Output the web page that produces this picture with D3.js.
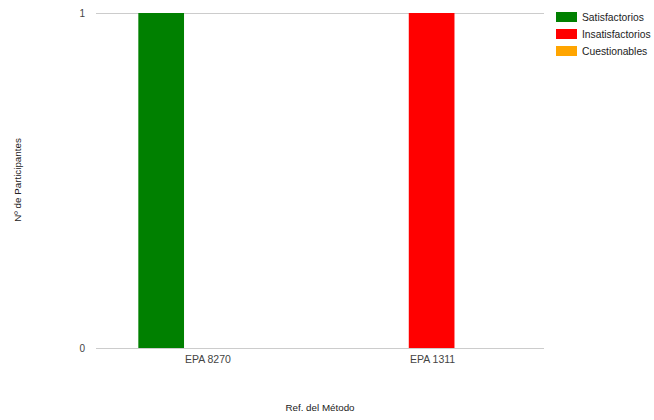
<!DOCTYPE html>
<html>
<head>
<meta charset="utf-8">
<script src="https://cdn.jsdelivr.net/npm/d3@7"></script>
<style>
  html, body { margin: 0; padding: 0; background: #fff; }
  svg { display: block; font-family: "Liberation Sans", Arial, sans-serif; }
</style>
</head>
<body>
<svg id="chart" width="654" height="420"></svg>
<script>
// Methods tested and participant counts per result class
const methods = ["EPA 8270", "EPA 1311"];
const seriesNames = ["Satisfactorios", "Insatisfactorios", "Cuestionables"];
const seriesColors = ["#008000", "#ff0000", "#ffa500"];
const satisfactorios = [1, 0];
const insatisfactorios = [0, 1];
const cuestionables = [0, 0];
const yTicks = [0, 1];
const xTitle = "Ref. del Método";
const yTitle = "Nº de Participantes";

const seriesValues = [satisfactorios, insatisfactorios, cuestionables];

const svg = d3.select("#chart");
const plot = { left: 96, right: 544, top: 13, bottom: 348 };

const x = d3.scaleBand().domain(methods).range([plot.left - 1.5, plot.right]).paddingInner(0).paddingOuter(0);
const barW = 45.7;
const xSeries = d3.scaleBand().domain(seriesNames).range([0, barW * seriesNames.length]);
const y = d3.scaleLinear().domain([0, 1]).range([plot.bottom, plot.top]);

// gridlines
svg.append("g")
  .selectAll("line")
  .data(yTicks)
  .join("line")
  .attr("x1", plot.left).attr("x2", plot.right)
  .attr("y1", d => y(d) + 0.5).attr("y2", d => y(d) + 0.5)
  .attr("stroke", "#cccccc").attr("stroke-width", 1);

// y tick labels
svg.append("g")
  .selectAll("text")
  .data(yTicks)
  .join("text")
  .attr("x", 85).attr("y", d => y(d) + 4)
  .attr("text-anchor", "end")
  .attr("font-size", 10).attr("fill", "#444")
  .text(d => d);

// bars
const groups = svg.append("g")
  .selectAll("g")
  .data(methods)
  .join("g")
  .attr("transform", d => `translate(${x(d) + x.bandwidth() / 2 - xSeries.range()[1] / 2},0)`);

groups.selectAll("rect")
  .data((m, i) => seriesNames.map((s, k) => ({ s, k, v: seriesValues[k][i] })))
  .join("rect")
  .attr("x", d => xSeries(d.s))
  .attr("width", xSeries.bandwidth())
  .attr("y", d => y(d.v))
  .attr("height", d => y(0) - y(d.v))
  .attr("fill", d => seriesColors[d.k]);

// x category labels
svg.append("g")
  .selectAll("text")
  .data(methods)
  .join("text")
  .attr("x", d => x(d) + x.bandwidth() / 2 + 1)
  .attr("y", 363)
  .attr("text-anchor", "middle")
  .attr("font-size", 10.5).attr("fill", "#444")
  .text(d => d);

// axis titles
svg.append("text")
  .attr("x", 320).attr("y", 411)
  .attr("text-anchor", "middle")
  .attr("font-size", 9.8).attr("fill", "#222")
  .text(xTitle);

svg.append("text")
  .attr("transform", "translate(21,180) rotate(-90)")
  .attr("text-anchor", "middle")
  .attr("font-size", 9.8).attr("fill", "#222")
  .text(yTitle);

// legend
const legend = svg.append("g")
  .selectAll("g")
  .data(seriesNames)
  .join("g")
  .attr("transform", (d, i) => `translate(556,${12 + i * 17})`);

legend.append("rect")
  .attr("width", 21).attr("height", 10)
  .attr("fill", (d, i) => seriesColors[i]);

legend.append("text")
  .attr("x", 26).attr("y", 9)
  .attr("font-size", 10.3).attr("fill", "#222")
  .text(d => d);
</script>
</body>
</html>
